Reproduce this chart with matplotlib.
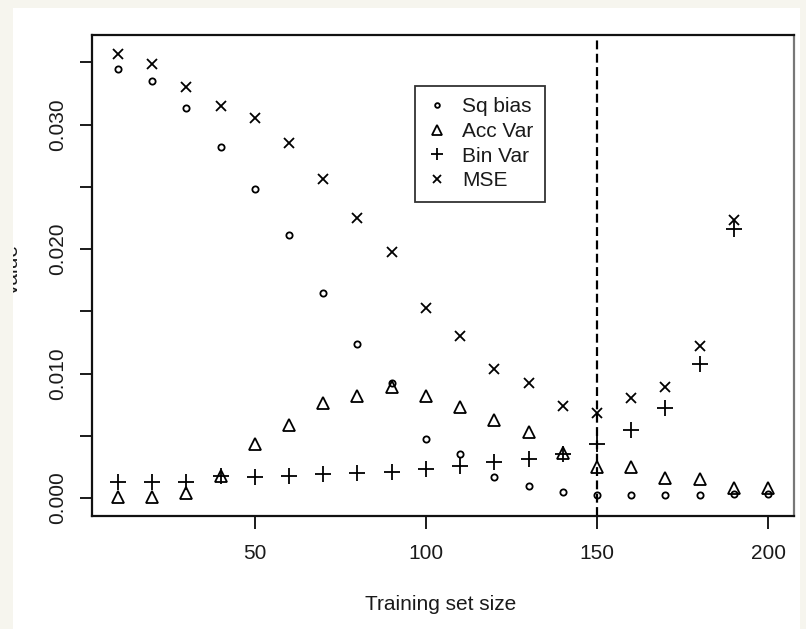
import numpy as np
import matplotlib
matplotlib.use("Agg")
import matplotlib.pyplot as plt
from matplotlib.patches import Rectangle

plt.rcParams['font.family'] = ['Liberation Sans', 'DejaVu Sans']

# --- datos ---
train_size = [10, 20, 30, 40, 50, 60, 70, 80, 90, 100,
              110, 120, 130, 140, 150, 160, 170, 180, 190, 200]
sq_bias = [0.0345, 0.0335, 0.0313, 0.0282, 0.0248, 0.0211, 0.0165, 0.0124, 0.0092, 0.0047,
           0.0035, 0.0017, 0.0010, 0.0005, 0.0002, 0.0002, 0.0002, 0.0002, 0.0003, 0.0003]
acc_var = [0.0001, 0.0001, 0.0004, 0.0018, 0.0043, 0.0059, 0.0076, 0.0082, 0.0089, 0.0082,
           0.0073, 0.0063, 0.0053, 0.0036, 0.0025, 0.0025, 0.0016, 0.0015, 0.0008, 0.0008]
bin_var = [0.0013, 0.0013, 0.0013, 0.0018, 0.0017, 0.0018, 0.0019, 0.0020, 0.0021, 0.0023,
           0.0026, 0.0029, 0.0031, 0.0035, 0.0043, 0.0055, 0.0072, 0.0108, 0.0216, np.nan]
mse = [0.0357, 0.0349, 0.0330, 0.0315, 0.0305, 0.0285, 0.0256, 0.0225, 0.0198, 0.0153,
       0.0130, 0.0104, 0.0092, 0.0074, 0.0068, 0.0080, 0.0089, 0.0122, 0.0223, np.nan]
cutoff = 150

yticks = [0.0, 0.005, 0.010, 0.015, 0.020, 0.025, 0.030, 0.035]
ytick_labels = ["0.000", "", "0.010", "", "0.020", "", "0.030", ""]
xticks = [50, 100, 150, 200]

W, H = 806, 629
crema = "#f6f5ee"
fig = plt.figure(figsize=(W / 100, H / 100), dpi=100, facecolor=crema)

# zona blanca del recorte
fig.patches.append(Rectangle((13 / W, 0), (800 - 13) / W, (H - 8) / H,
                             transform=fig.transFigure, facecolor="white",
                             edgecolor="none", zorder=0))

ax = fig.add_axes([92 / W, (H - 516) / H, 702 / W, 481 / H])
ax.set_zorder(1)
ax.set_facecolor("white")

ms_kw = dict(linestyle="none", color="black", markerfacecolor="none", markeredgewidth=1.3)
ax.plot(train_size, sq_bias, marker="o", markersize=4.5, label="Sq bias", **ms_kw)
ax.plot(train_size, acc_var, marker="^", markersize=9, label="Acc Var", **ms_kw)
ax.plot(train_size, bin_var, marker="+", markersize=11, label="Bin Var", **ms_kw)
ax.plot(train_size, mse, marker="x", markersize=7.5, label="MSE", **ms_kw)

ax.axvline(cutoff, color="black", linestyle=(0, (4, 2)), linewidth=1.6)

ax.set_xlim(2.4, 207.6)
ax.set_ylim(-0.00145, 0.0372)

ax.set_xticks(xticks)
ax.set_xticklabels([str(t) for t in xticks])
ax.set_yticks(yticks)
ax.set_yticklabels(ytick_labels, rotation=90, va="center")
ax.tick_params(axis="both", labelsize=15, colors="#1a1a1a", length=9, width=1.4)
ax.tick_params(axis="y", pad=9)
ax.tick_params(axis="x", pad=11)
for s in ax.spines.values():
    s.set_linewidth(1.6)
    s.set_color("#111111")
ax.spines["right"].set_color("#777777")

leg = ax.legend(loc="upper left", bbox_to_anchor=((415 - 92) / 702, (516 - 86) / 481),
                fontsize=15, frameon=True, fancybox=False, borderaxespad=0,
                handlelength=1.0, handletextpad=0.7, labelspacing=0.27,
                borderpad=0.55, markerscale=0.75)
leg.get_frame().set_edgecolor("black")
leg.get_frame().set_linewidth(1.3)
for t in leg.get_texts():
    t.set_color("#1a1a1a")

fig.text(441 / W, 1 - 604 / H, "Training set size", ha="center", va="center",
         fontsize=15, color="#1a1a1a")
fig.text(12 / W, 1 - 270 / H, "Value", rotation=90, ha="center", va="center",
         fontsize=15, color="#1a1a1a", zorder=1)
# borde crema que recorta la etiqueta
fig.patches.append(Rectangle((0, 0), 13 / W, 1, transform=fig.transFigure,
                             facecolor=crema, edgecolor="none", zorder=2))

fig.savefig("out.png", dpi=100, facecolor=crema)
